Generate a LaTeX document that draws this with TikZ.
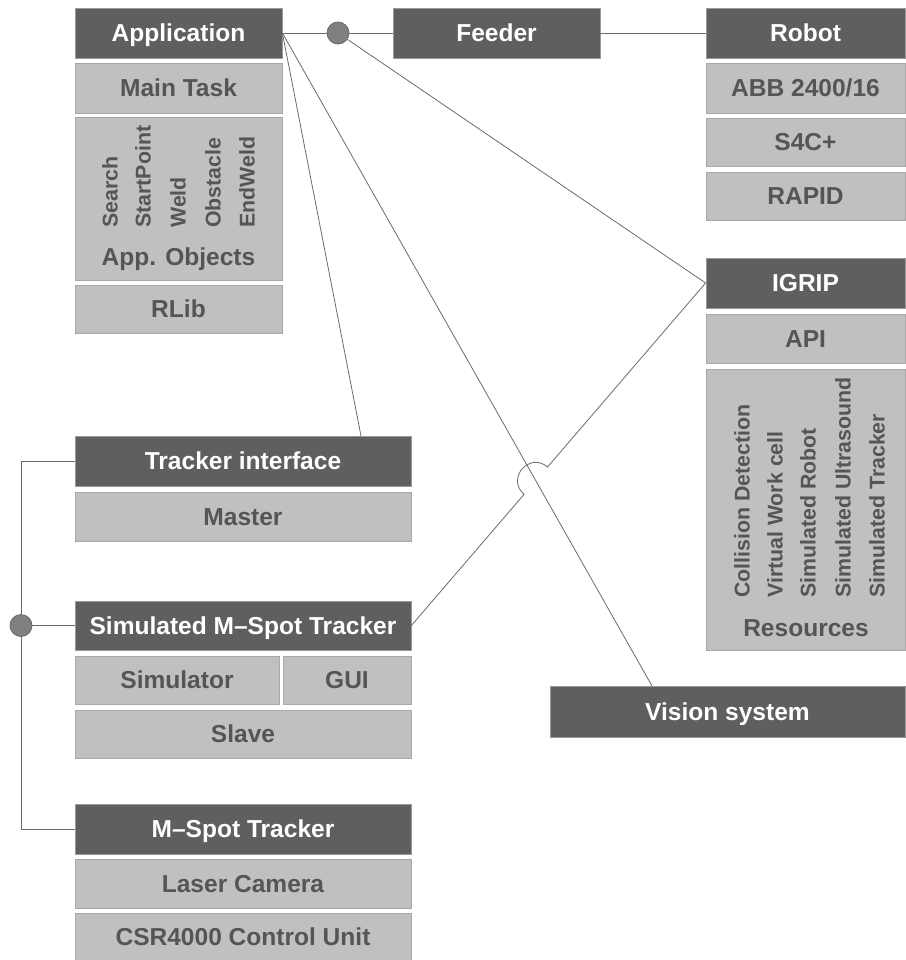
\documentclass[tikz,border=0pt]{standalone}
\usepackage{fontspec}
\setmainfont{Liberation Sans}
\usetikzlibrary{calc}
\definecolor{darkbox}{HTML}{5F5F5F}
\definecolor{darkedge}{HTML}{9A9A9A}
\definecolor{lightbox}{HTML}{C0C0C0}
\definecolor{lightedge}{HTML}{A8A8A8}
\definecolor{lighttext}{HTML}{555555}
\definecolor{wire}{HTML}{6A6A6A}
\definecolor{jointfill}{HTML}{808080}
\begin{document}
\begin{tikzpicture}[x=0.75pt,y=-0.75pt,
 wh/.style 2 args={minimum width=#1*0.75pt, minimum height=#2*0.75pt},
 box/.style={inner sep=0pt, font=\fontsize{18.4}{21}\selectfont\bfseries, text height=13.2pt, text depth=0pt, line width=0.6pt},
 dark/.style={box, fill=darkbox, draw=darkedge, text=white},
 light/.style={box, fill=lightbox, draw=lightedge, text=lighttext},
 vlabel/.style={rotate=90, anchor=west, inner sep=0pt, text=lighttext, font=\fontsize{16}{18}\selectfont\bfseries},
 plainlabel/.style={inner sep=0pt, text=lighttext, font=\fontsize{18.4}{21}\selectfont\bfseries, text height=13.2pt, text depth=0pt},
 wireline/.style={draw=wire, line width=0.6pt},
 joint/.style={circle, fill=jointfill, draw=wire, line width=0.6pt, minimum size=22*0.75pt, inner sep=0pt}]
\useasboundingbox (0,0) rectangle (906,960);

% Application column
\node[dark, wh={207}{50}] (app) at (178.5,33) {Application};
\node[light, wh={207}{50}] (main) at (178.5,88) {Main Task};
\node[light, wh={207}{163}] (appobj) at (178.5,198.5) {};
\node[vlabel] (l1) at (110,228) {Search};
\node[vlabel] (l2) at (143,228) {StartPoint};
\node[vlabel] (l3) at (178,228) {Weld};
\node[vlabel] (l4) at (213,228) {Obstacle};
\node[vlabel] (l5) at (247,228) {EndWeld};
\node[plainlabel] (appobjl) at (178.5,257) {App. Objects};
\node[light, wh={207}{48}] (rlib) at (178.5,309) {RLib};

% Feeder
\node[dark, wh={207}{50}] (feeder) at (496.5,33) {Feeder};

% Robot column
\node[dark, wh={199}{50}] (robot) at (805.5,33) {Robot};
\node[light, wh={199}{50}] (abb) at (805.5,88) {ABB 2400/16};
\node[light, wh={199}{48}] (s4c) at (805.5,142) {S4C+};
\node[light, wh={199}{48}] (rapid) at (805.5,196) {RAPID};

% IGRIP column
\node[dark, wh={199}{50}] (igrip) at (805.5,283) {IGRIP};
\node[light, wh={199}{49}] (api) at (805.5,338.5) {API};
\node[light, wh={199}{281}] (res) at (805.5,509.5) {};
\node[vlabel] (r1) at (742,598) {Collision Detection};
\node[vlabel] (r2) at (775,598) {Virtual Work cell};
\node[vlabel] (r3) at (808,598) {Simulated Robot};
\node[vlabel] (r4) at (843,598) {Simulated Ultrasound};
\node[vlabel] (r5) at (877,598) {Simulated Tracker};
\node[plainlabel] (resl) at (806,628) {Resources};

% Tracker interface
\node[dark, wh={336}{50}] (ti) at (243,461) {Tracker interface};
\node[light, wh={336}{49}] (master) at (243,516.5) {Master};

% Simulated M-Spot Tracker
\node[dark, wh={336}{49}] (sim) at (243,625.5) {Simulated M–Spot Tracker};
\node[light, wh={204}{48}] (simulator) at (177,680) {Simulator};
\node[light, wh={128}{48}] (gui) at (347,680) {GUI};
\node[light, wh={336}{48}] (slave) at (243,734) {Slave};

% M-Spot Tracker
\node[dark, wh={336}{50}] (mst) at (243,829) {M–Spot Tracker};
\node[light, wh={336}{49}] (laser) at (243,883.5) {Laser Camera};
\node[light, wh={336}{47}] (csr) at (243,936.5) {CSR4000 Control Unit};

% Vision system
\node[dark, wh={355}{51}] (vis) at (727.5,711.5) {Vision system};

% joints
\node[joint] (j1) at (338,33) {};
\node[joint] (j2) at (21,625.5) {};

% connector end points on box edges
\coordinate (tt) at (361,436);
\coordinate (vt) at (652,686);

% connectors
\draw[wireline] (app.east) -- (j1) -- (feeder.west);
\draw[wireline] (feeder.east) -- (robot.west);
\draw[wireline] (app.east) -- (tt);
\draw[wireline] (app.east) -- (vt);
\draw[wireline] (j1) -- (igrip.west);

\coordinate (X) at (intersection of app.east--vt and sim.east--igrip.west);
\coordinate (ja) at ($(X)!13.5pt!(sim.east)$);
\coordinate (jb) at ($(X)!13.5pt!(igrip.west)$);
\draw[wireline] (sim.east) -- (ja) .. controls ($(ja)!18pt!90:(X)$) and ($(jb)!18pt!-90:(X)$) .. (jb) -- (igrip.west);

\draw[wireline] (ti.west) -| (j2);
\draw[wireline] (mst.west) -| (j2);
\draw[wireline] (j2) -- (sim.west);
\end{tikzpicture}
\end{document}
